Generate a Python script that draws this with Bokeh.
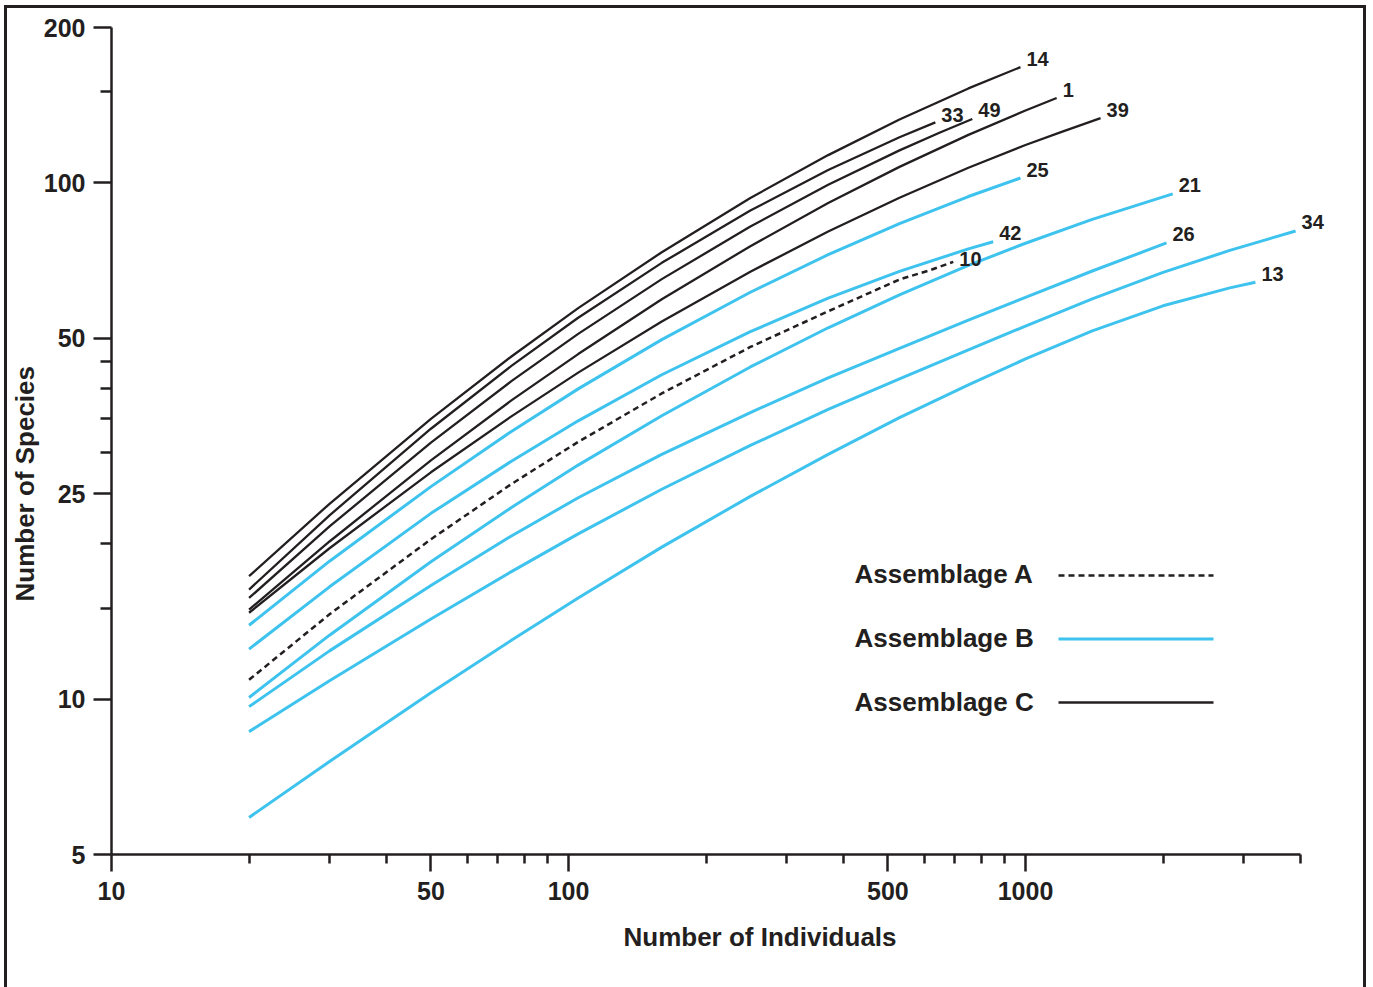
from bokeh.plotting import figure
from bokeh.models import FixedTicker, NumeralTickFormatter, Label, Arrow, Range1d, Title
from bokeh.embed import file_html
from bokeh.resources import INLINE

# ---- data ----
c14_x = [20, 30, 50, 75, 105, 160, 250, 370, 530, 750, 975]
c14_y = [17.3, 23.9, 34.9, 46.1, 57.2, 73.4, 93.5, 113.2, 132.7, 152.4, 167.6]
c33_x = [20, 30, 50, 75, 105, 160, 250, 370, 530, 635]
c33_y = [16.3, 22.7, 33.4, 44.2, 54.8, 70.0, 88.4, 105.9, 122.6, 131.0]
c49_x = [20, 30, 50, 75, 105, 160, 250, 370, 530, 650, 765]
c49_y = [15.7, 21.6, 31.4, 41.3, 51.0, 65.1, 82.3, 99.2, 115.6, 125.2, 133.0]
c1_x = [20, 30, 50, 75, 105, 160, 250, 370, 530, 750, 1000, 1170]
c1_y = [14.9, 20.2, 29.0, 37.9, 46.6, 59.5, 75.4, 91.4, 107.4, 123.9, 138.1, 146.0]
c39_x = [20, 30, 50, 75, 105, 160, 250, 370, 530, 750, 1000, 1200, 1460]
c39_y = [14.7, 19.6, 27.5, 35.3, 42.9, 53.9, 67.3, 80.5, 93.6, 107.0, 118.4, 125.6, 133.5]
c25_x = [20, 30, 50, 75, 105, 160, 250, 370, 530, 750, 975]
c25_y = [13.9, 18.5, 25.8, 33.0, 39.9, 49.7, 61.4, 72.6, 83.4, 94.1, 102.2]
c42_x = [20, 30, 50, 75, 105, 160, 250, 370, 530, 750, 850]
c42_y = [12.5, 16.5, 22.9, 28.9, 34.6, 42.5, 51.5, 59.8, 67.4, 74.5, 76.9]
c10_x = [20, 30, 50, 75, 105, 160, 250, 370, 530, 620, 695]
c10_y = [10.9, 14.6, 20.4, 26.1, 31.5, 39.1, 48.1, 56.4, 65.0, 67.8, 70.3]
c21_x = [20, 30, 50, 75, 105, 160, 250, 370, 530, 750, 1000, 1400, 2100]
c21_y = [10.07, 13.3, 18.45, 23.5, 28.4, 35.4, 44.0, 52.4, 60.7, 69.2, 76.4, 85.0, 95.2]
c26_x = [20, 30, 50, 75, 105, 160, 250, 370, 530, 750, 1000, 1400, 2035]
c26_y = [9.67, 12.4, 16.6, 20.7, 24.55, 29.8, 35.9, 41.9, 47.8, 54.2, 60.0, 67.5, 76.5]
c34_x = [20, 30, 50, 75, 105, 160, 250, 370, 530, 750, 1000, 1400, 2000, 2800, 3900]
c34_y = [8.65, 10.85, 14.3, 17.66, 20.9, 25.5, 31.0, 36.4, 41.7, 47.5, 52.8, 59.6, 67.1, 74.0, 80.7]
c13_x = [20, 30, 50, 75, 105, 160, 250, 370, 530, 750, 1000, 1400, 2000, 2800, 3185]
c13_y = [5.9, 7.57, 10.29, 13.0, 15.7, 19.7, 24.7, 29.8, 35.1, 40.6, 45.6, 51.7, 57.8, 62.6, 64.2]

assemblage_A = [("10", c10_x, c10_y)]
assemblage_B = [("25", c25_x, c25_y), ("42", c42_x, c42_y), ("21", c21_x, c21_y),
                ("26", c26_x, c26_y), ("34", c34_x, c34_y), ("13", c13_x, c13_y)]
assemblage_C = [("14", c14_x, c14_y), ("33", c33_x, c33_y), ("49", c49_x, c49_y),
                ("1", c1_x, c1_y), ("39", c39_x, c39_y)]

x_major = [10, 50, 100, 500, 1000]
x_minor = [20, 30, 40, 60, 70, 80, 90, 200, 300, 400, 600, 700, 800, 900, 2000, 3000, 4000]
y_major = [5, 10, 25, 50, 100, 200]
y_minor = [15, 20, 30, 35, 40, 45, 150]
x_axis_extent = (10, 4000)
legend_labels = ["Assemblage A", "Assemblage B", "Assemblage C"]
x_title = "Number of Individuals"
y_title = "Number of Species"

# ---- styles ----
INK = "#231f20"
BLUE = "#3ec3ee"
FONT = "Liberation Sans"
label_dy = {"10": 3, "33": 7.5}

p = figure(width=1356, height=979, x_axis_type="log", y_axis_type="log",
           x_range=Range1d(10, 4890), y_range=Range1d(5, 200),
           output_backend="svg", toolbar_location=None,
           min_border_left=104, min_border_right=23, min_border_top=19, min_border_bottom=133)
p.grid.visible = False
p.outline_line_color = None
p.background_fill_color = "white"
p.border_fill_color = "white"
p.styles = {"margin-left": "7px", "margin-top": "8px", "outline": "3px solid " + INK}

for ax in (p.xaxis[0], p.yaxis[0]):
    ax.axis_line_color = INK
    ax.axis_line_width = 2.5
    ax.major_tick_line_color = INK
    ax.minor_tick_line_color = INK
    ax.major_tick_line_width = 2.5
    ax.minor_tick_line_width = 2.5
    ax.major_tick_in = 0
    ax.minor_tick_in = 0
    ax.major_label_text_font = FONT
    ax.major_label_text_font_style = "bold"
    ax.major_label_text_font_size = "25px"
    ax.major_label_text_color = INK
    ax.formatter = NumeralTickFormatter(format="0")

p.xaxis.bounds = x_axis_extent
p.xaxis.ticker = FixedTicker(ticks=x_major, minor_ticks=x_minor)
p.yaxis.ticker = FixedTicker(ticks=y_major, minor_ticks=y_minor)
p.xaxis.major_tick_out = 17
p.xaxis.minor_tick_out = 9
p.yaxis.major_tick_out = 18
p.yaxis.minor_tick_out = 11
p.xaxis.major_label_standoff = 10
p.yaxis.major_label_standoff = 8

# axis titles placed as off-centre titles, like the reference
p.add_layout(Title(text=x_title, align="left", offset=512, vertical_align="middle", standoff=36,
                   text_font=FONT, text_font_style="bold", text_font_size="26px",
                   text_color=INK), "below")
p.add_layout(Title(text=y_title, align="left", offset=253, vertical_align="middle", standoff=0,
                   text_font=FONT, text_font_style="bold", text_font_size="26px",
                   text_color=INK), "left")

def add_curve(name, xs, ys, color, width, dash="solid"):
    p.line(xs, ys, line_color=color, line_width=width, line_dash=dash)
    p.add_layout(Label(x=xs[-1], y=ys[-1], text=name, x_offset=6,
                       y_offset=label_dy.get(name, 8.5),
                       text_font=FONT, text_font_style="bold", text_font_size="20px",
                       text_color=INK, text_align="left", text_baseline="middle"))

for name, xs, ys in assemblage_B:
    add_curve(name, xs, ys, BLUE, 3)
for name, xs, ys in assemblage_C:
    add_curve(name, xs, ys, INK, 2.3)
for name, xs, ys in assemblage_A:
    add_curve(name, xs, ys, INK, 2.5, "6 4")

# ---- legend (label left, sample line right) ----
leg_styles = [(INK, "6 4", 2.3), (BLUE, "solid", 2.8), (INK, "solid", 2.3)]
for i, lab in enumerate(legend_labels):
    p.add_layout(Label(x=743, y=281 - 64 * i, x_units="screen", y_units="screen", text=lab,
                       text_font=FONT, text_font_style="bold", text_font_size="26px",
                       text_color=INK, text_align="left", text_baseline="middle"))
    c, d, w = leg_styles[i]
    p.add_layout(Arrow(x_start=947, y_start=279 - 63.5 * i, x_end=1102, y_end=279 - 63.5 * i,
                       start_units="screen", end_units="screen", start=None, end=None,
                       line_color=c, line_dash=d, line_width=w))

open("out.html", "w").write(file_html(p, INLINE))
